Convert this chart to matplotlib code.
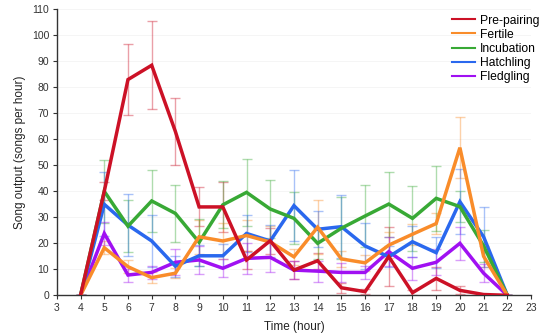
import matplotlib
matplotlib.use("Agg")
import matplotlib.pyplot as plt
import numpy as np

plt.rcParams['font.family'] = ['Liberation Sans', 'DejaVu Sans']

hours = list(range(4, 23))

# mean song output per hour and error (± SE) for each breeding stage
pre_pairing = [0, 40, 83, 88.5, 63, 34, 34, 13.6, 21, 9.7, 13.3, 2.9, 1.4, 14.9, 1, 6.5, 1.9, 0.3, 0]
pre_pairing_err = [0, 3.5, 13.7, 17, 13, 7.5, 9.5, 3.5, 5, 3.5, 3, 2, 1, 11.5, 1, 4.5, 1.5, 0.3, 0]

fertile = [0, 18.3, 11, 6.8, 8.5, 22.5, 20.9, 23, 20.5, 14.8, 26.2, 14, 12.5, 19.3, 23.5, 27.6, 56.8, 15, 0]
fertile_err = [0, 2.5, 2.5, 2, 2, 6.5, 7, 6, 6, 3, 10.5, 3, 3, 5, 4, 4, 11.7, 4, 0]

incubation = [0, 40, 26.6, 36.3, 31.5, 20.4, 34.8, 39.6, 33.2, 29.6, 20, 25.8, 30.5, 35.1, 29.6, 37.3, 34.1, 19, 0]
incubation_err = [0, 12, 10, 12, 11, 9, 9, 13, 11, 10, 6, 12, 12, 12.5, 12.5, 12.5, 6, 6, 0]

hatchling = [0, 35, 27, 20.9, 11.2, 15.2, 15.2, 23.8, 20.9, 34.5, 25.4, 26.4, 19, 14.8, 20.6, 16.4, 36, 22.5, 0]
hatchling_err = [0, 12.3, 12, 10, 4, 4, 4.5, 7, 6, 13.7, 7, 12, 9, 4, 6, 6, 12.5, 11.6, 0]

fledgling = [0, 23.8, 7.8, 8.8, 12.7, 13.6, 10.4, 14.2, 14.6, 9.7, 9.3, 8.8, 8.8, 16.8, 10.4, 12.7, 20, 8.5, 0]
fledgling_err = [0, 4.5, 2.5, 2.5, 5, 5.5, 3.5, 6, 5.5, 3.5, 4, 3.5, 2.5, 5.5, 4.5, 5, 6.3, 3.5, 0]

series = [
    ("Pre-pairing", pre_pairing, pre_pairing_err, "#cc1126"),
    ("Fertile", fertile, fertile_err, "#f98c2a"),
    ("Incubation", incubation, incubation_err, "#38a935"),
    ("Hatchling", hatchling, hatchling_err, "#2a68ee"),
    ("Fledgling", fledgling, fledgling_err, "#a010f2"),
]

fig = plt.figure(figsize=(5.52, 3.35), dpi=100)
ax = fig.add_axes([0.103, 0.1185, 0.859, 0.8535])

for name, vals, errs, col in series:
    ax.errorbar(hours, vals, yerr=errs, fmt='none', ecolor=col, alpha=0.4,
                elinewidth=1.0, capsize=3.5, capthick=1.0, zorder=2)
for name, vals, errs, col in reversed(series):
    ax.plot(hours, vals, color=col, lw=2.5, label=name, zorder=3,
            solid_joinstyle='miter')

ax.set_xlim(3, 23)
ax.set_ylim(0, 110)
ax.set_xticks(range(3, 24))
ax.set_yticks(range(0, 111, 10))
ax.tick_params(axis='both', labelsize=7.5, colors='#333333', length=3, width=0.8, pad=2.5)
ax.yaxis.grid(True, color='#f4f4f4', lw=0.6)
ax.set_axisbelow(True)
for s in ('top', 'right'):
    ax.spines[s].set_visible(False)
for s in ('left', 'bottom'):
    ax.spines[s].set_color('#333333')
    ax.spines[s].set_linewidth(1.0)

ax.set_xlabel("Time (hour)", fontsize=8.5, color='#222222', labelpad=6)
ax.set_ylabel("Song output (songs per hour)", fontsize=8.5, color='#222222', labelpad=4)

handles, labels = ax.get_legend_handles_labels()
order = [labels.index(s[0]) for s in series]
leg = ax.legend([handles[i] for i in order], [labels[i] for i in order],
                loc='upper right', bbox_to_anchor=(1.04, 1.02), frameon=False,
                fontsize=8.7, handlelength=1.9, handletextpad=0.35, labelspacing=0.18)
for h in leg.get_lines():
    h.set_linewidth(1.5)

fig.savefig("out.png", dpi=100)
